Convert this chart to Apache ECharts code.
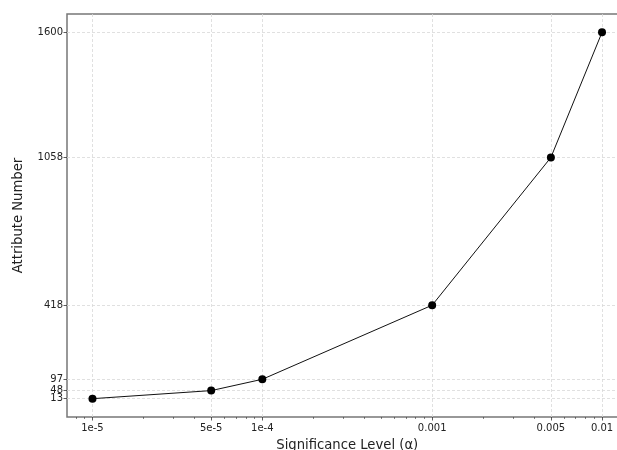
<!DOCTYPE html>
<html>
<head>
<meta charset="utf-8">
<script src="https://cdn.jsdelivr.net/npm/echarts@6/dist/echarts.min.js"></script>
<style>html,body{margin:0;padding:0;background:#fff}#c{width:617px;height:450px}</style>
</head>
<body>
<div id="c"></div>
<script>
const alphas = [1e-5, 5e-5, 1e-4, 0.001, 0.005, 0.01];
const attributeCounts = [13, 48, 97, 418, 1058, 1600];
const xTickValues = [1e-5, 5e-5, 1e-4, 0.001, 0.005, 0.01];
const xTickLabels = ['1e-5', '5e-5', '1e-4', '0.001', '0.005', '0.01'];
const xMinorTicks = [8e-6, 9e-6, 2e-5, 3e-5, 4e-5, 6e-5, 7e-5, 8e-5, 9e-5,
  2e-4, 3e-4, 4e-4, 5e-4, 6e-4, 7e-4, 8e-4, 9e-4,
  2e-3, 3e-3, 4e-3, 6e-3, 7e-3, 8e-3, 9e-3];
const yTickValues = [48, 97, 418, 1058, 1600];
const yTickValuesLow = [13];

const chart = echarts.init(document.getElementById('c'), null, {renderer: 'canvas'});
const font = 'DejaVu Sans';
const xMin = Math.pow(10, -5.15), xMax = Math.pow(10, -1.85);
const yPad = (1600 - 13) * 0.05;

function xLabel(v) {
  for (let i = 0; i < xTickValues.length; i++) {
    if (Math.abs(v - xTickValues[i]) / xTickValues[i] < 1e-6) return xTickLabels[i];
  }
  return '';
}
const grid = {lineStyle: {color: '#d8d8d8', type: [3, 2], width: 0.8}};
function yAxisDef(vals, named) {
  return {
    type: 'value', min: 13 - yPad, max: 1600 + yPad, position: 'left',
    name: named ? 'Attribute Number' : '', nameLocation: 'middle', nameGap: 42,
    nameTextStyle: {fontFamily: font, fontSize: 13.2, color: '#222'},
    axisLine: {show: false, onZero: false},
    axisTick: {show: true, customValues: vals, length: 3.5, lineStyle: {color: '#333', width: 0.8}},
    axisLabel: {customValues: vals, formatter: v => String(Math.round(v)), hideOverlap: false,
      fontFamily: font, fontSize: 10, color: '#222', margin: 4},
    splitLine: Object.assign({show: true}, grid)
  };
}

chart.setOption({
  animation: false,
  backgroundColor: '#fff',
  grid: {left: 67, top: 14, right: -10.5, bottom: 33, outerBoundsMode: 'none', containLabel: false,
    show: true, borderColor: '#777', borderWidth: 1.5, backgroundColor: 'transparent'},
  xAxis: [{
    type: 'log', logBase: 10, min: xMin, max: xMax, position: 'bottom',
    name: 'Significance Level (α)', nameLocation: 'middle', nameGap: 22,
    nameTextStyle: {fontFamily: font, fontSize: 13.2, color: '#222'},
    axisLine: {show: false, onZero: false},
    axisTick: {show: true, customValues: xTickValues, length: 3.5, lineStyle: {color: '#333', width: 0.8}},
    axisLabel: {customValues: xTickValues, formatter: xLabel, hideOverlap: false, fontFamily: font, fontSize: 10, color: '#222', margin: 6},
    splitLine: Object.assign({show: true}, grid),
    minorTick: {show: false}
  }, {
    type: 'log', logBase: 10, min: xMin, max: xMax, position: 'bottom',
    axisLine: {show: false, onZero: false},
    axisTick: {show: true, customValues: xMinorTicks, length: 2, lineStyle: {color: '#333', width: 0.6}},
    axisLabel: {show: false},
    splitLine: {show: false}
  }],
  yAxis: [yAxisDef(yTickValues, true), yAxisDef(yTickValuesLow, false)],
  series: [{
    type: 'line', xAxisIndex: 0, yAxisIndex: 0,
    data: alphas.map((a, i) => [a, attributeCounts[i]]),
    symbol: 'circle', symbolSize: 8,
    itemStyle: {color: '#000'},
    lineStyle: {color: '#111', width: 1}
  }]
});
</script>
</body>
</html>
